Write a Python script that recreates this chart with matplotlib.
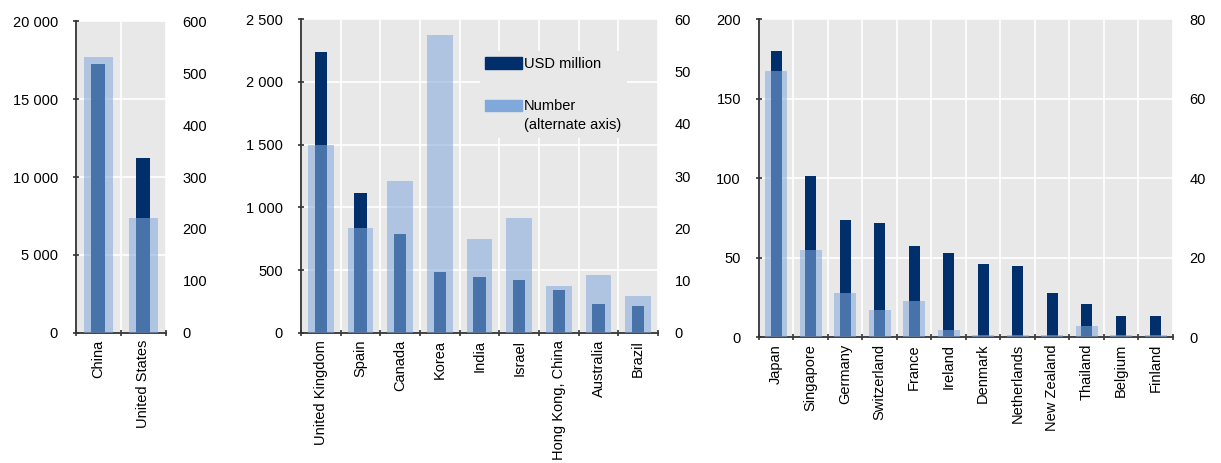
import numpy as np
import matplotlib
matplotlib.use("Agg")
import matplotlib.pyplot as plt
from matplotlib.patches import Patch, Rectangle
from matplotlib.legend_handler import HandlerPatch
from matplotlib.ticker import FuncFormatter, MultipleLocator, FixedLocator

plt.rcParams["font.family"] = ["Liberation Sans", "DejaVu Sans"]
plt.rcParams["font.size"] = 10.5

# --------------------- DATA ---------------------

countries_1 = ["China", "United States"]
usd_1 = [17250, 11250]
number_1 = [530, 222]

countries_2 = ["United Kingdom", "Spain", "Canada", "Korea", "India", "Israel",
               "Hong Kong, China", "Australia", "Brazil"]
usd_2 = [2235, 1112, 788, 488, 443, 422, 342, 232, 215]
number_2 = [36, 20, 29, 57, 18, 22, 9, 11, 7]

countries_3 = ["Japan", "Singapore", "Germany", "Switzerland", "France", "Ireland",
               "Denmark", "Netherlands", "New Zealand", "Thailand", "Belgium", "Finland"]
usd_3 = [180, 101, 73.5, 72, 57, 53, 46, 44.5, 27.5, 20.5, 13.5, 13]
number_3 = [67, 22, 11, 6.8, 9, 1.8, 0.6, 0.6, 0.6, 2.8, 0.6, 0.6]

DARK = "#002F6C"
LIGHT = "#81A8DB"
BG = "#E8E8E8"


def space_thousands(v, pos):
    return f"{v:,.0f}".replace(",", " ")


def top_aligned_patch(legend, orig_handle, xdescent, ydescent, width, height, fontsize):
    # move the swatch up so it sits next to the first line of a two-line label
    shift = 0.0 if "\n" not in orig_handle.get_label() else 0.72 * fontsize
    return Rectangle((-xdescent, -ydescent + shift), width, height)


def panel(fig, rect, names, usd, number, left_max, left_step, right_max, right_step):
    n = len(names)
    x = np.arange(n)
    ax = fig.add_axes(rect)
    ax.set_facecolor(BG)
    ax.bar(x, usd, width=0.31, color=DARK, zorder=2)
    ax.set_xlim(-0.5, n - 0.5)
    ax.set_ylim(0, left_max)
    ax.yaxis.set_major_locator(MultipleLocator(left_step))
    ax.yaxis.set_major_formatter(FuncFormatter(space_thousands))
    ax.set_xticks(x)
    ax.set_xticklabels(names, rotation=90, va="top", ha="center")
    ax.xaxis.set_minor_locator(FixedLocator(np.arange(-0.5, n, 1)))
    ax.tick_params(axis="x", which="major", length=0, pad=5)
    ax.tick_params(axis="x", which="minor", length=4, direction="inout",
                   width=1.2, color="#333333")
    ax.tick_params(axis="y", length=4, direction="inout", width=1.2,
                   color="#333333", pad=11)
    ax.grid(axis="y", which="major", color="white", linewidth=1.2, zorder=0)
    ax.grid(axis="x", which="minor", color="white", linewidth=1.2, zorder=0)
    ax.set_axisbelow(True)
    for side in ["top", "right"]:
        ax.spines[side].set_visible(False)
    for side in ["left", "bottom"]:
        ax.spines[side].set_color("#333333")
        ax.spines[side].set_linewidth(1.3)

    ax2 = ax.twinx()
    ax2.bar(x, number, width=0.64, color=LIGHT, alpha=0.56, zorder=3)
    ax2.set_ylim(0, right_max)
    ax2.yaxis.set_major_locator(MultipleLocator(right_step))
    ax2.tick_params(axis="y", length=0, pad=12)
    for side in ["top", "right", "left", "bottom"]:
        ax2.spines[side].set_visible(False)
    return ax, ax2


fig = plt.figure(figsize=(12.21, 4.63), dpi=100)

panel(fig, [0.0622, 0.2808, 0.0737, 0.6738], countries_1, usd_1, number_1,
      20000, 5000, 600, 100)
ax_mid, ax_mid2 = panel(fig, [0.2465, 0.2808, 0.2924, 0.6781], countries_2, usd_2, number_2,
                        2500, 500, 60, 10)
panel(fig, [0.6216, 0.2721, 0.3390, 0.6868], countries_3, usd_3, number_3,
      200, 50, 80, 20)

labels = ["USD million", "Number\n(alternate axis)"]
handles = [Patch(color=DARK, label=labels[0]), Patch(color=LIGHT, label=labels[1])]
leg = ax_mid2.legend(handles, labels,
                     loc="upper left", bbox_to_anchor=(0.48, 0.92),
                     frameon=True, facecolor=BG, edgecolor=BG, framealpha=1,
                     handlelength=2.5, handleheight=0.85, handletextpad=0.12,
                     labelspacing=1.9, borderpad=0.4, fontsize=10.5,
                     handler_map={Patch: HandlerPatch(patch_func=top_aligned_patch)})
leg.get_frame().set_linewidth(0)
leg.get_texts()[1].set_linespacing(1.45)

plt.savefig("out.png", dpi=100)
